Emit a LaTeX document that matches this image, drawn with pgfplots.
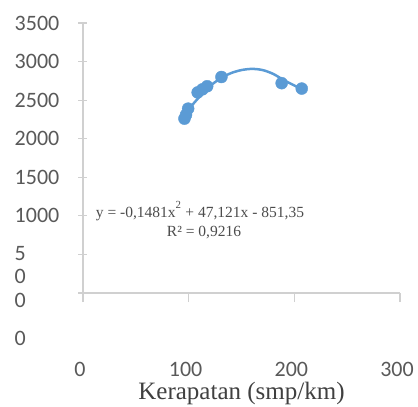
\documentclass[border=0pt]{standalone}
\usepackage{pgfplots}
\pgfplotsset{compat=1.18}
\usepackage{fontspec}
\setmainfont{Liberation Serif}
\newfontfamily\tickfont{Carlito}
\definecolor{xlblue}{HTML}{5B9BD5}
\definecolor{txtgray}{HTML}{595959}
\definecolor{axgray}{HTML}{D0D0D0}
\begin{document}
\begin{tikzpicture}
\useasboundingbox (-83pt,-114pt) rectangle (335pt,293pt);
\begin{axis}[
  at={(0pt,0pt)}, anchor=south west,
  scale only axis, width=317pt, height=270pt,
  xmin=0, xmax=300, ymin=0, ymax=3500,
  axis lines*=left,
  axis line style={draw=axgray, line width=1.3pt, -},
  xtick={0,100,200,300},
  ytick={0,500,1000,1500,2000,2500,3000,3500},
  yticklabels={
    {\raisebox{-52pt}[0pt][0pt]{0}},
    {\rlap{\raisebox{-6.5pt}[0pt][0pt]{5}}\rlap{\raisebox{-29.5pt}[0pt][0pt]{0}}\raisebox{-53pt}[0pt][0pt]{0}},
    1000,1500,2000,2500,3000,3500},
  major tick length=9pt,
  tick style={draw=axgray, line width=1.2pt},
  xtick align=outside,
  ytick align=center,
  /pgf/number format/assume math mode=true,
  ticklabel style={font=\tickfont\fontsize{22}{24}\selectfont, text=txtgray},
  yticklabel style={anchor=west, inner sep=0pt, xshift=-64pt},
  xticklabel style={anchor=center, yshift=-67pt, xshift=-3pt},
  xlabel={Kerapatan (smp/km)},
  xlabel style={font=\fontsize{25}{27}\selectfont, text=black!75,
    at={(axis description cs:0.5,0)}, anchor=base, yshift=-106pt},
  clip=false,
]
\addplot[xlblue, line width=2.5pt, smooth] coordinates {
  (96,2290) (100,2380) (110,2540) (120,2680) (130,2780) (140,2850)
  (150,2890) (160,2905) (170,2890) (180,2840) (190,2760) (200,2690) (207,2640)
};
\addplot[only marks, mark=*, mark size=6pt, xlblue,
  mark options={draw=xlblue, fill=xlblue}] coordinates {
  (96,2260) (97.5,2310) (99.5,2390) (108.5,2600) (113,2640)
  (117.5,2680) (131,2800) (188,2720) (207,2650)
};
\node[font=\fontsize{15.5}{17}\selectfont, text=black!70] at (axis cs:110.7,1063)
  {y = -0,1481x\raisebox{3pt}{\textsuperscript{2}} + 47,121x - 851,35};
\node[font=\fontsize{15.5}{17}\selectfont, text=black!70] at (axis cs:114.5,778)
  {R² = 0,9216};
\end{axis}
\end{tikzpicture}
\end{document}
